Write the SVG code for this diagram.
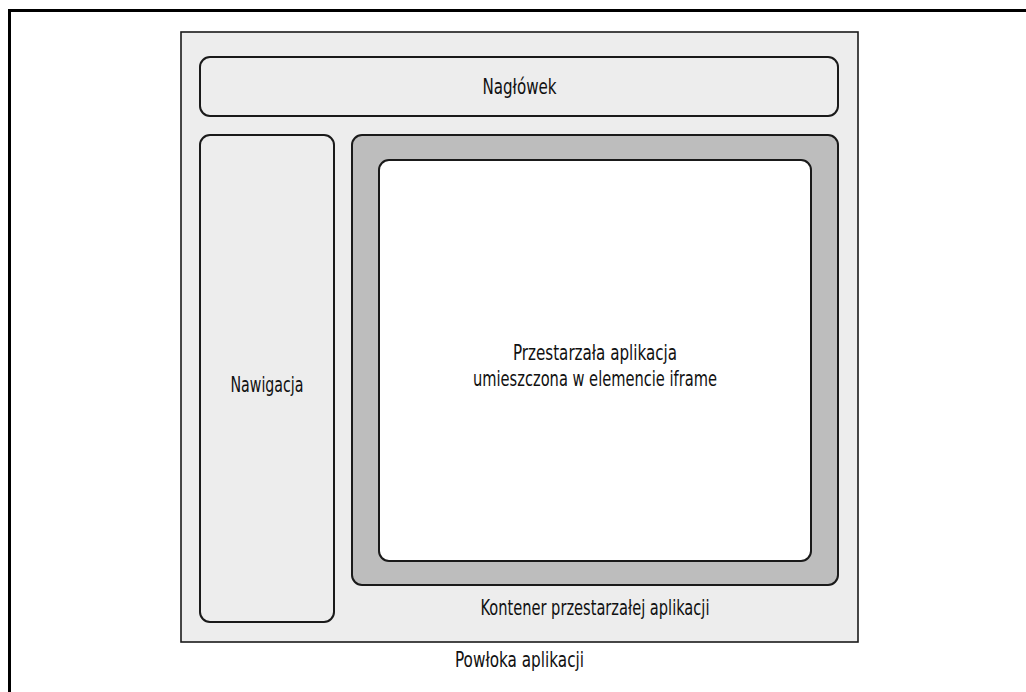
<svg xmlns="http://www.w3.org/2000/svg" width="1026" height="692" viewBox="0 0 1026 692">
  <style>
    .box { fill: #ededed; stroke: #1a1a1a; stroke-width: 2; }
    .container { fill: #bdbdbd; stroke: #1a1a1a; stroke-width: 2; }
    .frame { fill: #ffffff; stroke: #1a1a1a; stroke-width: 2; }
    .label { font-family: "DejaVu Sans Condensed", "DejaVu Sans", sans-serif; font-size: 22px; fill: #111111; text-anchor: middle; }
  </style>
  <rect width="1026" height="692" fill="#ffffff"/>
  <!-- page border -->
  <rect x="9.5" y="10.5" width="1040" height="700" fill="none" stroke="#000000" stroke-width="3"/>

  <g id="app-shell">
    <rect x="181" y="32" width="677" height="610" fill="#ededed" stroke="#1a1a1a" stroke-width="1.6"/>
    <text class="label" x="519.5" y="667" textLength="129" lengthAdjust="spacingAndGlyphs">Powłoka aplikacji</text>
  </g>

  <g id="header">
    <rect class="box" x="200" y="57" width="638" height="59" rx="10"/>
    <text class="label" x="519.5" y="94" textLength="74" lengthAdjust="spacingAndGlyphs">Nagłówek</text>
  </g>

  <g id="navigation">
    <rect class="box" x="200" y="135" width="134" height="487" rx="10"/>
    <text class="label" x="267" y="392" textLength="73" lengthAdjust="spacingAndGlyphs">Nawigacja</text>
  </g>

  <g id="legacy-container">
    <rect class="container" x="352" y="135" width="486" height="450" rx="10"/>
    <text class="label" x="595" y="615" textLength="229" lengthAdjust="spacingAndGlyphs">Kontener przestarzałej aplikacji</text>
  </g>

  <g id="legacy-iframe">
    <rect class="frame" x="379" y="160" width="432" height="401" rx="10"/>
    <text class="label" x="595" y="360" textLength="164" lengthAdjust="spacingAndGlyphs">Przestarzała aplikacja</text>
    <text class="label" x="595" y="386" textLength="244" lengthAdjust="spacingAndGlyphs">umieszczona w elemencie iframe</text>
  </g>

  <g id="connectors"/>
</svg>
